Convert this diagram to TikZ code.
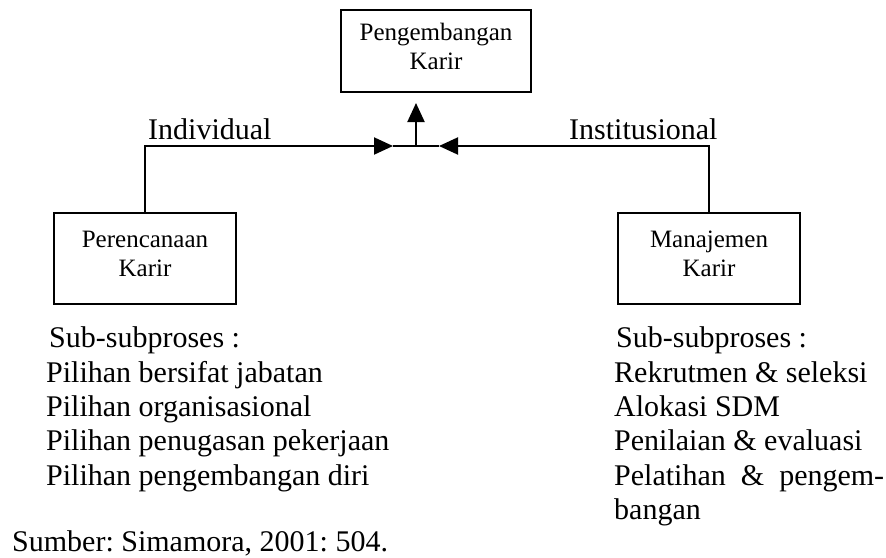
\documentclass[tikz,border=0pt]{standalone}
\usepackage{fontspec}
\setmainfont{Liberation Serif}
\usepackage{tikz}
\usetikzlibrary{arrows.meta}
\usetikzlibrary{calc}
\frenchspacing
\tikzset{
  kotak/.style={draw,line width=2pt,align=center,inner sep=0pt,font=\fontsize{25}{29}\selectfont},
  daftar/.style={anchor=base west,inner sep=0pt,font=\fontsize{30}{34.5}\selectfont},
  panah/.style={line width=2pt,-{Triangle[length=19pt,width=17pt]}}
}
\begin{document}
\begin{tikzpicture}[x=1pt,y=-1pt]
\useasboundingbox (0,0) rectangle (886,557);
\node[kotak,minimum width=190,minimum height=82] (pengembangan) at (436,51) {Pengembangan\\Karir\strut};
\node[kotak,minimum width=182,minimum height=91] (perencanaan) at (145,258.5) {Perencanaan\\Karir\strut};
\node[kotak,minimum width=182,minimum height=91] (manajemen) at (709,258.5) {Manajemen\\Karir\strut};
\coordinate (kiri) at (393,146);
\coordinate (kanan) at (439,146);
\coordinate (tengah) at (416,146);

\draw[panah] (perencanaan.north) |- (kiri);
\draw[panah] (manajemen.north) |- (kanan);
\draw[line width=2pt] (kiri) -- (kanan);
\draw[panah,shorten >=10pt] (tengah) -- (tengah |- pengembangan.south);
\node[daftar] (individual) at (148,139) {Individual};
\node[daftar] (institusional) at (569,139) {Institusional};

\node[daftar] (subkiri) at (49,347) {Sub-subproses :};
\foreach \y/\teks in {382/Pilihan bersifat jabatan, 416/Pilihan organisasional,
    450/Pilihan penugasan pekerjaan, 485/Pilihan pengembangan diri}
    \node[daftar] (kiri\y) at (46,\y) {\teks};
\node[daftar] (subkanan) at (616,347) {Sub-subproses :};
\foreach \y/\teks in {382/Rekrutmen \& seleksi, 416/Alokasi SDM,
    450/Penilaian \& evaluasi, 519/bangan}
    \node[daftar] (kanan\y) at (614,\y) {\teks};
\node[daftar] (kanan485) at (614,485) {\hbox to 270pt{Pelatihan\hfill\&\hfill pengem-}};
\node[daftar] (sumber) at (12,551) {Sumber: Simamora, 2001: 504.};
\end{tikzpicture}
\end{document}
